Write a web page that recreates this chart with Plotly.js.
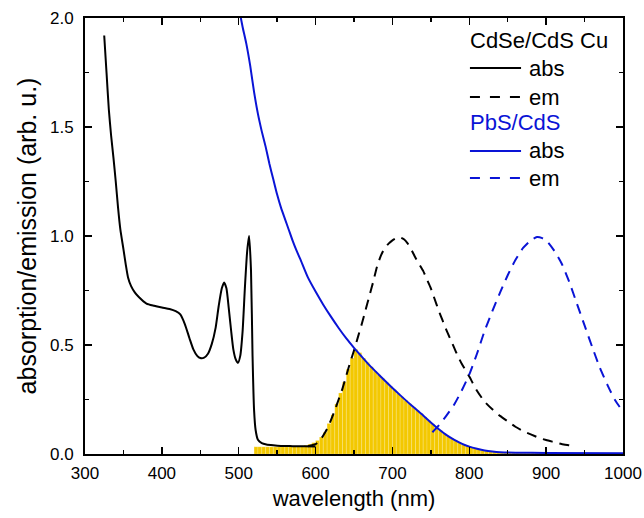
<!DOCTYPE html>
<html>
<head>
<meta charset="utf-8">
<script src="https://cdn.plot.ly/plotly-3.0.1.min.js"></script>
<style>html,body{margin:0;padding:0;background:#fff;}</style>
</head>
<body>
<div id="chart" style="width:644px;height:518px;"></div>
<script>
// CdSe/CdS Cu absorption (black solid)
const cdseAbsX = [325,328,331,334,337,340,343,346,350,353,356,360,365,370,380,390,400,410,418,424,430,436,441,446,450,455,460,465,470,474,478,481,484,487,490,493,496,499,502,505,508,511,513.5,516,518,520,522,525,530,536,545,555,570,585,600];
const cdseAbsY = [1.92,1.75,1.58,1.46,1.36,1.25,1.13,1.03,0.94,0.87,0.81,0.77,0.74,0.72,0.69,0.68,0.672,0.665,0.655,0.64,0.595,0.53,0.48,0.45,0.44,0.442,0.46,0.505,0.58,0.68,0.76,0.787,0.76,0.67,0.57,0.48,0.435,0.418,0.45,0.56,0.76,0.93,1.0,0.84,0.45,0.2,0.11,0.065,0.05,0.044,0.04,0.037,0.036,0.035,0.034];

// CdSe/CdS Cu emission (black dashed)
const cdseEmX = [590,600,605,610,615,620,625,630,635,640,645,650,655,660,665,670,675,680,685,690,695,700,705,710,715,720,725,730,735,740,745,750,755,760,765,770,775,780,785,790,800,810,820,830,840,850,860,870,880,890,900,910,920,930,935];
const cdseEmY = [0.036,0.045,0.06,0.085,0.115,0.155,0.2,0.25,0.30,0.36,0.42,0.475,0.535,0.595,0.66,0.725,0.79,0.86,0.91,0.945,0.965,0.98,0.99,0.993,0.985,0.965,0.935,0.9,0.87,0.84,0.80,0.76,0.71,0.66,0.615,0.57,0.53,0.49,0.45,0.415,0.355,0.29,0.24,0.205,0.175,0.15,0.125,0.105,0.09,0.075,0.064,0.055,0.046,0.04,0.037];

// PbS/CdS absorption (blue solid)
const pbsAbsX = [500,505,510,515,520,525,530,535,540,545,550,555,560,565,570,575,580,590,600,610,620,630,640,650,660,670,680,690,700,710,720,730,740,750,760,770,780,790,800,810,820,830,840,860,900,1000];
const pbsAbsY = [2.05,1.96,1.88,1.78,1.66,1.56,1.48,1.41,1.33,1.26,1.19,1.13,1.08,1.03,0.98,0.935,0.895,0.81,0.745,0.685,0.63,0.578,0.53,0.487,0.447,0.408,0.372,0.337,0.303,0.27,0.238,0.207,0.177,0.145,0.115,0.088,0.066,0.048,0.034,0.024,0.016,0.011,0.008,0.006,0.005,0.004];

// PbS/CdS emission (blue dashed)
const pbsEmX = [752,760,770,780,790,800,810,820,830,840,850,860,870,880,888,895,900,910,920,930,940,950,960,970,980,990,1000];
const pbsEmY = [0.10,0.13,0.175,0.225,0.29,0.365,0.46,0.565,0.655,0.74,0.82,0.89,0.945,0.98,0.995,0.99,0.98,0.935,0.875,0.79,0.69,0.59,0.49,0.395,0.315,0.245,0.195];

// Spectral overlap (yellow bars, 5 nm bins)
const overlapX = [522.5,527.5,532.5,537.5,542.5,547.5,552.5,557.5,562.5,567.5,572.5,577.5,582.5,587.5,592.5,597.5,602.5,607.5,612.5,617.5,622.5,627.5,632.5,637.5,642.5,647.5,652.5,657.5,662.5,667.5,672.5,677.5,682.5,687.5,692.5,697.5,702.5,707.5,712.5,717.5,722.5,727.5,732.5,737.5,742.5,747.5,752.5,757.5,762.5,767.5,772.5,777.5,782.5,787.5,792.5,797.5,802.5,807.5,812.5,817.5,822.5,827.5,832.5,837.5,842.5,847.5,852.5,857.5,862.5,867.5,872.5,877.5,882.5,887.5,892.5,897.5,902.5,907.5,912.5,917.5,922.5,927.5,932.5];
const overlapY = [0.033,0.033,0.033,0.033,0.033,0.033,0.033,0.033,0.033,0.034,0.034,0.035,0.037,0.040,0.045,0.052,0.062,0.078,0.1,0.14,0.18,0.23,0.28,0.33,0.39,0.44,0.48,0.465,0.44,0.42,0.40,0.38,0.363,0.346,0.328,0.311,0.295,0.278,0.262,0.246,0.23,0.215,0.2,0.185,0.17,0.153,0.138,0.123,0.108,0.095,0.082,0.071,0.061,0.052,0.044,0.038,0.032,0.026,0.021,0.017,0.014,0.012,0.01,0.009,0.008,0.007,0.006,0.006,0.006,0.006,0.005,0.005,0.005,0.005,0.005,0.005,0.005,0.005,0.005,0.005,0.005,0.005,0.005];

// Legend entries
const legendGroups = ["CdSe/CdS Cu", "PbS/CdS"];
const legendItems = ["abs", "em"];

const FONT = "'Liberation Sans', Arial, Helvetica, sans-serif";
const BLACK = "#000000";
const BLUE = "#0a14d6";
const GOLD = "#f3c800";
const DASH = "10px,7px";

const traces = [
  {type:'bar', x: overlapX, y: overlapY, width: 5,
   marker:{color: GOLD, line:{color:'rgba(255,255,255,0.35)', width:0.5}},
   showlegend:false, hoverinfo:'skip'},
  {type:'scatter', mode:'lines', x: cdseAbsX, y: cdseAbsY, line:{color:BLACK, width:2, shape:'spline', smoothing:0.6}, name:'CdSe/CdS Cu abs', showlegend:false},
  {type:'scatter', mode:'lines', x: cdseEmX, y: cdseEmY, line:{color:BLACK, width:2, dash:DASH, shape:'spline', smoothing:0.6}, name:'CdSe/CdS Cu em', showlegend:false},
  {type:'scatter', mode:'lines', x: pbsAbsX, y: pbsAbsY, line:{color:BLUE, width:2, shape:'spline', smoothing:0.6}, name:'PbS/CdS abs', showlegend:false},
  {type:'scatter', mode:'lines', x: pbsEmX, y: pbsEmY, line:{color:BLUE, width:2, dash:DASH, shape:'spline', smoothing:0.6}, name:'PbS/CdS em', showlegend:false}
];

// custom legend (paper coordinates)
const lx0 = 0.7155, lx1 = 0.8105, ltx = 0.8215;
const rowY = [0.9495, 0.8853, 0.8188, 0.7592, 0.695, 0.633];
const annotations = [];
const shapes = [];
const groupColors = [BLACK, BLUE];
legendGroups.forEach((g, gi) => {
  const base = gi * 3;
  annotations.push({xref:'paper', yref:'paper', x: lx0 - 0.004, y: rowY[base], xanchor:'left', yanchor:'middle',
    text: g, showarrow:false, font:{family:FONT, size:22, color: groupColors[gi]}});
  legendItems.forEach((it, ii) => {
    const yy = rowY[base + 1 + ii];
    shapes.push({type:'line', xref:'paper', yref:'paper', x0: lx0, x1: lx1, y0: yy, y1: yy,
      line:{color: groupColors[gi], width:2, dash: ii === 0 ? 'solid' : '10px,10px'}});
    annotations.push({xref:'paper', yref:'paper', x: ltx, y: yy, xanchor:'left', yanchor:'middle',
      text: it, showarrow:false, font:{family:FONT, size:22, color: BLACK}});
  });
});

const layout = {
  width: 644, height: 518,
  margin: {l:85, r:21, t:18, b:64},
  paper_bgcolor:'#ffffff', plot_bgcolor:'#ffffff',
  font: {family: FONT, size: 17, color: BLACK},
  bargap: 0,
  showlegend: false,
  xaxis: {
    range: [300, 1000], dtick: 100, tick0: 0,
    ticks:'inside', ticklen:7, tickwidth:1.5, tickcolor:BLACK,
    showline:true, linewidth:2, linecolor:BLACK, mirror:'ticks',
    showgrid:false, zeroline:false,
    tickfont:{family:FONT, size:17, color:BLACK},
    ticklabelstandoff: 3,
    minor:{dtick:50, ticks:'inside', ticklen:4, tickwidth:1.5, tickcolor:BLACK, showgrid:false},
    title:{text:'wavelength (nm)', font:{family:FONT, size:22, color:BLACK}, standoff: 8}
  },
  yaxis: {
    range: [0, 2.0], dtick: 0.5, tick0: 0, tickformat: '.1f',
    ticks:'inside', ticklen:7, tickwidth:1.5, tickcolor:BLACK,
    showline:true, linewidth:2, linecolor:BLACK, mirror:'ticks',
    showgrid:false, zeroline:false,
    tickfont:{family:FONT, size:17, color:BLACK},
    ticklabelstandoff: 6,
    minor:{dtick:0.25, ticks:'inside', ticklen:4, tickwidth:1.5, tickcolor:BLACK, showgrid:false},
    title:{text:'absorption/emission (arb. u.)', font:{family:FONT, size:25, color:BLACK}, standoff: 6}
  },
  annotations: annotations,
  shapes: shapes
};

Plotly.newPlot('chart', traces, layout, {displayModeBar:false, staticPlot:true});
</script>
</body>
</html>
